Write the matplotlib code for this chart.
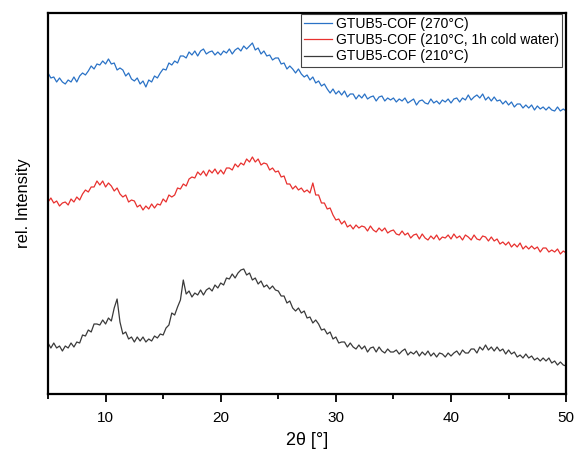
import numpy as np
import matplotlib
matplotlib.use('Agg')
import matplotlib.pyplot as plt
from matplotlib.ticker import MultipleLocator

plt.rcParams['font.family'] = ['Liberation Sans', 'DejaVu Sans']

# 2theta grid, 0.25 deg steps from 5 to 50
two_theta = np.arange(181) * 0.25 + 5

# GTUB5-COF (270°C), stacked on top
i_270 = [
    321, 316, 317, 312, 316, 312, 310, 314, 312, 317, 312, 318, 321, 319, 323, 328, 325, 330, 329, 333,
    330, 335, 330, 331, 324, 326, 324, 318, 321, 315, 313, 316, 310, 313, 307, 314, 312, 318, 316, 321,
    325, 324, 331, 329, 333, 331, 338, 338, 336, 342, 339, 343, 338, 343, 345, 340, 342, 343, 339, 342,
    339, 343, 341, 345, 340, 344, 346, 343, 348, 345, 348, 351, 344, 346, 340, 343, 338, 339, 334, 336,
    336, 330, 331, 325, 328, 325, 321, 325, 320, 317, 319, 314, 317, 311, 313, 308, 310, 305, 301, 305,
    300, 303, 299, 303, 297, 300, 300, 295, 299, 296, 300, 295, 297, 298, 293, 297, 298, 293, 296, 294,
    296, 292, 295, 293, 296, 291, 293, 295, 289, 293, 294, 291, 290, 295, 291, 293, 290, 294, 292, 295,
    291, 295, 296, 292, 296, 294, 299, 294, 297, 299, 296, 300, 294, 297, 293, 297, 293, 294, 290, 293,
    289, 292, 287, 290, 290, 286, 289, 286, 289, 284, 288, 285, 287, 284, 287, 284, 283, 287, 283, 285,
    283]

# GTUB5-COF (210°C, 1h cold water)
i_210_water = [
    192, 196, 191, 193, 188, 191, 192, 189, 195, 192, 197, 194, 200, 204, 202, 207, 207, 213, 209, 213,
    207, 211, 208, 203, 206, 200, 197, 199, 192, 194, 193, 187, 189, 184, 188, 185, 190, 186, 190, 189,
    195, 192, 199, 197, 199, 206, 205, 210, 208, 215, 217, 216, 222, 219, 223, 218, 224, 221, 225, 220,
    224, 220, 226, 226, 224, 230, 227, 231, 229, 235, 232, 237, 232, 235, 229, 231, 230, 224, 226, 222,
    223, 217, 218, 210, 210, 205, 208, 204, 206, 202, 204, 201, 211, 199, 199, 191, 191, 185, 186, 179,
    174, 175, 170, 173, 167, 169, 165, 169, 166, 168, 167, 163, 168, 164, 162, 166, 163, 166, 161, 163,
    164, 160, 159, 163, 159, 161, 156, 159, 160, 155, 160, 156, 154, 158, 155, 159, 154, 157, 156, 159,
    155, 160, 156, 158, 154, 159, 157, 154, 159, 155, 154, 158, 157, 153, 157, 153, 155, 150, 152, 149,
    152, 147, 150, 147, 151, 145, 148, 145, 148, 145, 147, 142, 146, 146, 142, 144, 142, 145, 140, 143,
    141]

# GTUB5-COF (210°C)
i_210 = [
    51, 46, 51, 46, 48, 43, 48, 46, 51, 47, 52, 51, 59, 58, 64, 62, 70, 70, 69, 74,
    70, 76, 73, 86, 95, 72, 60, 62, 55, 57, 52, 57, 53, 57, 52, 55, 53, 58, 56, 60,
    59, 66, 69, 81, 79, 87, 94, 114, 100, 103, 97, 101, 99, 104, 99, 104, 106, 103, 109, 106,
    111, 109, 116, 115, 120, 116, 121, 124, 125, 119, 121, 114, 116, 110, 113, 107, 109, 105, 108, 104,
    103, 98, 98, 91, 93, 86, 83, 86, 81, 83, 76, 77, 71, 74, 70, 64, 65, 60, 62, 55,
    57, 51, 52, 52, 47, 51, 47, 45, 49, 45, 48, 42, 46, 47, 42, 47, 43, 41, 45, 42,
    42, 44, 40, 43, 45, 39, 42, 40, 43, 38, 42, 39, 43, 38, 41, 37, 41, 40, 37, 41,
    38, 41, 43, 39, 44, 41, 41, 45, 45, 41, 47, 44, 49, 44, 47, 43, 47, 43, 45, 40,
    44, 40, 42, 37, 39, 36, 40, 36, 38, 34, 36, 33, 36, 33, 36, 31, 33, 29, 32, 29,
    28]

labels = ['GTUB5-COF (270°C)', 'GTUB5-COF (210°C, 1h cold water)', 'GTUB5-COF (210°C)']
colors = ['#2a72c6', '#e8312f', '#3a3a3a']

fig = plt.figure(figsize=(5.77, 4.59), dpi=100)
ax = fig.add_axes([0.0832, 0.1416, 0.8980, 0.8301])

for y, lab, c in zip([i_270, i_210_water, i_210], labels, colors):
    ax.plot(two_theta, y, color=c, linewidth=0.9, label=lab)

ax.set_xlim(5, 50)
ax.set_ylim(0, 381)
ax.set_yticks([])
ax.xaxis.set_major_locator(MultipleLocator(10))
ax.xaxis.set_minor_locator(MultipleLocator(5))
ax.tick_params(axis='x', which='major', direction='out', length=6, width=1.3, labelsize=11, pad=6)
ax.tick_params(axis='x', which='minor', direction='out', length=3.5, width=1.3)
for s in ax.spines.values():
    s.set_linewidth(1.6)

ax.set_xlabel('2θ [°]', fontsize=13, labelpad=5)
ax.set_ylabel('rel. Intensity', fontsize=12, labelpad=12)

leg = ax.legend(loc='upper right', bbox_to_anchor=(0.992, 0.998), fontsize=10,
                frameon=True, fancybox=False, edgecolor='#444444', framealpha=1,
                handlelength=2.0, handletextpad=0.25, labelspacing=0.15,
                borderpad=0.25, borderaxespad=0)
leg.get_frame().set_linewidth(0.8)

fig.savefig('out.png', dpi=100)
